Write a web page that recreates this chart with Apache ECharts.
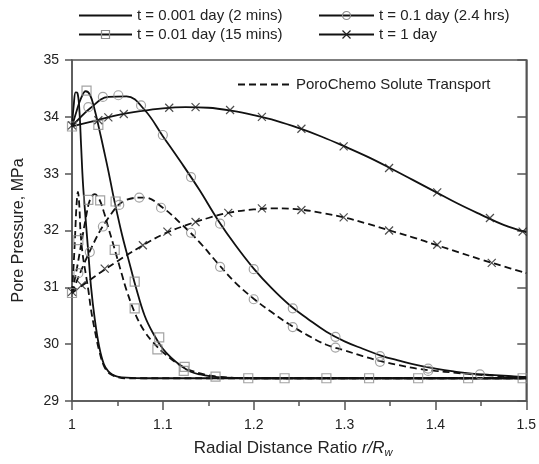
<!DOCTYPE html>
<html>
<head>
<meta charset="utf-8">
<script src="https://cdn.jsdelivr.net/npm/echarts@6/dist/echarts.min.js"></script>
<style>
  html, body { margin: 0; padding: 0; background: #fff; }
  #chart { width: 539px; height: 464px; }
</style>
</head>
<body>
<div id="chart"></div>
<script>
// radial distance ratio r/Rw and pore pressure (MPa), one pair per curve
const r001 = [1.0, 1.002, 1.004, 1.006, 1.008, 1.010, 1.012, 1.015, 1.018, 1.021, 1.025, 1.030, 1.035, 1.040, 1.045, 1.050, 1.060, 1.08, 1.2, 1.35, 1.50];
const pSolid001 = [33.83, 34.22, 34.43, 34.42, 34.15, 33.5, 32.85, 32.2, 31.6, 31.0, 30.45, 29.95, 29.65, 29.52, 29.46, 29.43, 29.41, 29.4, 29.4, 29.4, 29.4];
const rChem001 = [1.0, 1.002, 1.0035, 1.005, 1.0065, 1.008, 1.0095, 1.012, 1.015, 1.018, 1.021, 1.025, 1.030, 1.035, 1.040, 1.045, 1.050, 1.060, 1.08, 1.2, 1.35, 1.50];
const pChem001 = [30.9, 31.45, 31.95, 32.45, 32.68, 32.45, 31.95, 31.55, 31.25, 30.95, 30.6, 30.25, 29.88, 29.62, 29.5, 29.45, 29.42, 29.4, 29.4, 29.4, 29.4, 29.4];

const r01 = [1.0, 1.005, 1.01, 1.015, 1.02, 1.025, 1.03, 1.035, 1.04, 1.045, 1.05, 1.055, 1.06, 1.065, 1.07, 1.08, 1.09, 1.10, 1.11, 1.12, 1.13, 1.14, 1.16, 1.20, 1.3, 1.4, 1.50];
const pSolid01 = [33.83, 34.1, 34.33, 34.45, 34.38, 34.12, 33.78, 33.42, 33.05, 32.65, 32.28, 31.93, 31.62, 31.32, 31.02, 30.5, 30.17, 29.92, 29.75, 29.62, 29.52, 29.47, 29.42, 29.4, 29.4, 29.4, 29.4];
const rChem01 = [1.0, 1.005, 1.01, 1.015, 1.02, 1.025, 1.03, 1.035, 1.04, 1.045, 1.05, 1.055, 1.06, 1.07, 1.08, 1.09, 1.10, 1.12, 1.14, 1.16, 1.20, 1.3, 1.4, 1.50];
const pChem01 = [30.9, 31.3, 31.75, 32.2, 32.55, 32.64, 32.55, 32.33, 32.05, 31.78, 31.5, 31.22, 30.95, 30.52, 30.22, 30.02, 29.86, 29.62, 29.49, 29.43, 29.4, 29.4, 29.4, 29.4];

const r1 = [1.00, 1.02, 1.04, 1.06, 1.08, 1.10, 1.12, 1.14, 1.16, 1.18, 1.20, 1.22, 1.24, 1.26, 1.28, 1.30, 1.32, 1.34, 1.36, 1.38, 1.40, 1.42, 1.44, 1.46, 1.48, 1.50];
const pSolid1 = [33.83, 34.15, 34.35, 34.36, 34.12, 33.66, 33.2, 32.72, 32.2, 31.74, 31.33, 30.98, 30.68, 30.44, 30.22, 30.05, 29.92, 29.8, 29.71, 29.63, 29.57, 29.52, 29.48, 29.46, 29.44, 29.42];
const pChem1 = [30.9, 31.65, 32.22, 32.54, 32.58, 32.4, 32.12, 31.8, 31.43, 31.08, 30.8, 30.56, 30.34, 30.15, 29.99, 29.89, 29.79, 29.7, 29.63, 29.57, 29.53, 29.5, 29.47, 29.45, 29.43, 29.42];

const rDay = [1.0, 1.025, 1.05, 1.075, 1.10, 1.125, 1.15, 1.175, 1.20, 1.225, 1.25, 1.275, 1.30, 1.325, 1.35, 1.375, 1.40, 1.425, 1.45, 1.475, 1.50];
const pSolidDay = [33.83, 33.93, 34.03, 34.1, 34.15, 34.17, 34.16, 34.11, 34.03, 33.93, 33.8, 33.65, 33.48, 33.3, 33.1, 32.89, 32.68, 32.47, 32.28, 32.1, 31.97];
const pChemDay = [30.9, 31.19, 31.46, 31.71, 31.93, 32.09, 32.22, 32.32, 32.37, 32.39, 32.37, 32.31, 32.23, 32.12, 32.0, 31.88, 31.75, 31.62, 31.49, 31.37, 31.25];

// marker points
const sqR = [1.0, 1.016, 1.029, 1.0, 1.007, 1.018, 1.031, 1.048, 1.047, 1.069, 1.069, 1.096, 1.094, 1.124, 1.123, 1.158, 1.194, 1.234, 1.28, 1.327, 1.381, 1.436, 1.496];
const sqP = [33.83, 34.46, 33.86, 30.9, 31.83, 32.54, 32.53, 32.51, 31.66, 31.1, 30.63, 30.12, 29.91, 29.6, 29.53, 29.43, 29.4, 29.4, 29.4, 29.4, 29.4, 29.4, 29.4];
const ciR = [1.018, 1.034, 1.051, 1.076, 1.1, 1.131, 1.163, 1.2, 1.243, 1.29, 1.339, 1.392, 1.449,
             1.007, 1.0196, 1.034, 1.052, 1.074, 1.098, 1.131, 1.163, 1.2, 1.243, 1.29, 1.339, 1.392];
const ciP = [34.17, 34.35, 34.38, 34.2, 33.68, 32.94, 32.12, 31.32, 30.63, 30.13, 29.79, 29.57, 29.47,
             31.25, 31.62, 32.07, 32.45, 32.58, 32.4, 31.96, 31.36, 30.79, 30.3, 29.94, 29.69, 29.53];
const crR = [1.0, 1.029, 1.04, 1.057, 1.107, 1.136, 1.174, 1.209, 1.2525, 1.299, 1.349, 1.402, 1.46, 1.496,
             1.0, 1.0106, 1.036, 1.078, 1.105, 1.136, 1.172, 1.209, 1.2525, 1.299, 1.349, 1.402, 1.462];
const crP = [33.85, 33.94, 33.99, 34.05, 34.16, 34.17, 34.12, 34.0, 33.79, 33.48, 33.1, 32.67, 32.22, 31.98,
             30.92, 31.04, 31.33, 31.74, 31.98, 32.15, 32.31, 32.39, 32.36, 32.23, 32.0, 31.75, 31.43];

const names = ['t = 0.001 day (2 mins)', 't = 0.01 day (15 mins)', 't = 0.1 day (2.4 hrs)', 't = 1 day'];
const chemName = 'PoroChemo Solute Transport';

const FONT = 'Liberation Sans';
const AXIS = '#555';
const MARK = '#8c8c8c';
const CROSS = 'path://M0,0L10,10M10,0L0,10';

const pairs = (xs, ys) => xs.map((x, i) => [x, ys[i]]);

const hidden = { color: 'transparent', borderColor: 'transparent', borderWidth: 0 };
const squareStyle = { color: 'transparent', borderColor: MARK, borderWidth: 1.2 };
const circleStyle = { color: 'transparent', borderColor: MARK, borderWidth: 1.2 };
const crossStyle = { color: 'transparent', borderColor: '#222', borderWidth: 1.2 };

function curve(name, xs, ys, dashed, symbol, itemStyle) {
  return {
    type: 'line',
    name: name,
    data: pairs(xs, ys),
    showSymbol: false,
    symbol: symbol,
    itemStyle: itemStyle,
    smooth: 0.4,
    lineStyle: { color: '#111', width: 1.8, type: dashed ? [7, 4] : 'solid' },
    emphasis: { disabled: true },
    z: 2
  };
}

function markers(xs, ys, symbol, size, itemStyle) {
  return {
    type: 'scatter',
    data: pairs(xs, ys),
    symbol: symbol,
    symbolSize: size,
    itemStyle: itemStyle,
    emphasis: { disabled: true },
    z: 3
  };
}

const chart = echarts.init(document.getElementById('chart'));

const legendText = { fontSize: 15, color: '#222', fontFamily: FONT };
// legend entries carry their own marker style (open grey symbols)
const legendItem = (name, itemStyle) => ({ name: name, itemStyle: itemStyle });

chart.setOption({
  animation: false,
  textStyle: { fontFamily: FONT },
  grid: {
    left: 72, right: 9, top: 60, bottom: 63,
    show: true, borderColor: AXIS, borderWidth: 1.5, backgroundColor: 'transparent'
  },
  legend: [
    {
      data: [legendItem(names[0], hidden), legendItem(names[1], squareStyle)],
      orient: 'vertical', left: 73, top: 3,
      itemWidth: 53, itemHeight: 10, itemGap: 4, textStyle: legendText, selectedMode: false
    },
    {
      data: [legendItem(names[2], circleStyle), legendItem(names[3], crossStyle)],
      orient: 'vertical', left: 313, top: 3,
      itemWidth: 55, itemHeight: 10, itemGap: 4, textStyle: legendText, selectedMode: false
    },
    {
      data: [legendItem(chemName, hidden)], left: 232, top: 72,
      itemWidth: 53, itemHeight: 10, textStyle: legendText, selectedMode: false
    }
  ],
  xAxis: {
    type: 'value', min: 1, max: 1.5, interval: 0.1,
    name: '{n|Radial Distance Ratio }{i|r/R}{s|w}',
    nameLocation: 'middle', nameGap: 37,
    nameTextStyle: {
      padding: [0, 12, 0, 0],
      rich: {
        n: { fontSize: 17, color: '#222', fontFamily: FONT },
        i: { fontSize: 17, color: '#222', fontFamily: FONT, fontStyle: 'italic' },
        s: { fontSize: 11, color: '#222', fontFamily: FONT, fontStyle: 'italic', padding: [9, 0, 0, 0] }
      }
    },
    axisLine: { onZero: false, lineStyle: { color: AXIS, width: 1.5 } },
    axisTick: { length: 9, lineStyle: { color: AXIS, width: 1.5 } },
    minorTick: { show: true, splitNumber: 2, length: 5, lineStyle: { color: AXIS, width: 1.5 } },
    splitLine: { show: false },
    axisLabel: { fontSize: 14, color: '#222', margin: 17, fontFamily: FONT }
  },
  yAxis: [
    {
      type: 'value', min: 29, max: 35, interval: 1,
      name: 'Pore Pressure, MPa', nameLocation: 'middle', nameGap: 45,
      nameTextStyle: { fontSize: 16, color: '#222', fontFamily: FONT },
      axisLine: { show: true, onZero: false, lineStyle: { color: AXIS, width: 1.5 } },
      axisTick: { show: true, length: 7, lineStyle: { color: AXIS, width: 1.5 } },
      splitLine: { show: false },
      axisLabel: { fontSize: 14, color: '#222', margin: 13, fontFamily: FONT }
    },
    {
      type: 'value', min: 29, max: 35, interval: 1, position: 'right',
      axisLine: { show: true, onZero: false, lineStyle: { color: AXIS, width: 1.5 } },
      axisTick: { show: true, inside: true, length: 9, lineStyle: { color: AXIS, width: 1.5 } },
      splitLine: { show: false },
      axisLabel: { show: false }
    }
  ],
  series: [
    curve(names[0], r001, pSolid001, false, 'circle', hidden),
    curve(names[1], r01, pSolid01, false, 'rect', squareStyle),
    curve(names[2], r1, pSolid1, false, 'circle', circleStyle),
    curve(names[3], rDay, pSolidDay, false, CROSS, crossStyle),
    curve(chemName, rChem001, pChem001, true, 'circle', hidden),
    curve(chemName, rChem01, pChem01, true, 'circle', hidden),
    curve(chemName, r1, pChem1, true, 'circle', hidden),
    curve(chemName, rDay, pChemDay, true, 'circle', hidden),
    markers(sqR, sqP, 'rect', 9, squareStyle),
    markers(ciR, ciP, 'circle', 9, circleStyle),
    markers(crR, crP, CROSS, 8, crossStyle)
  ]
});
</script>
</body>
</html>
